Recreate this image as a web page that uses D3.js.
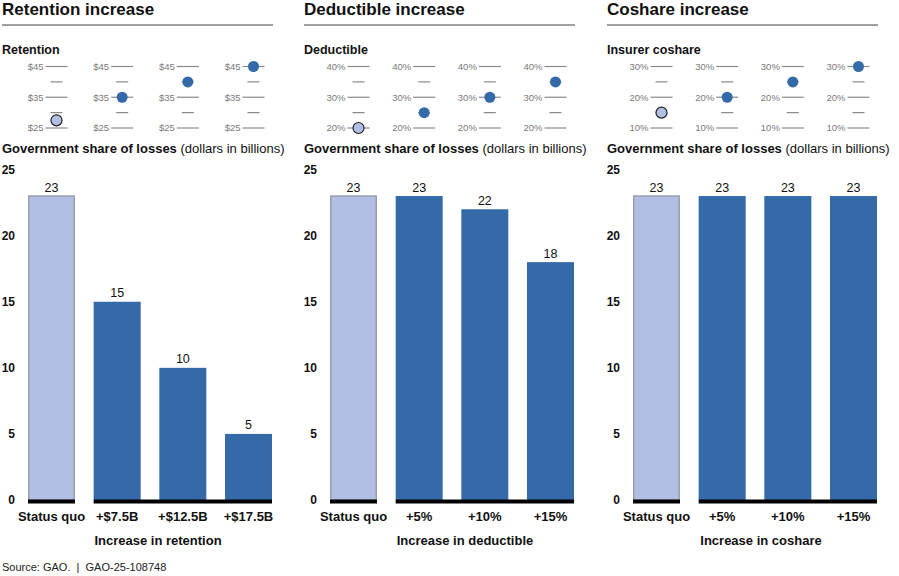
<!DOCTYPE html>
<html>
<head>
<meta charset="utf-8">
<script src="https://cdn.jsdelivr.net/npm/d3@7"></script>
<style>
  body { margin: 0; background: #fff; }
  text { font-family: "Liberation Sans", Arial, sans-serif; }
</style>
</head>
<body>
<script>
/*--- data ---*/
let panelTitles = ["Retention increase", "Deductible increase", "Coshare increase"];
let gaugeTitles = ["Retention", "Deductible", "Insurer coshare"];
let axisTitles = ["Increase in retention", "Increase in deductible", "Increase in coshare"];

let retentionCats = ["Status quo", "+$7.5B", "+$12.5B", "+$17.5B"];
let deductibleCats = ["Status quo", "+5%", "+10%", "+15%"];
let coshareCats = ["Status quo", "+5%", "+10%", "+15%"];

// government share of losses, dollars in billions
let retentionLosses = [23, 15, 10, 5];
let deductibleLosses = [23, 23, 22, 18];
let coshareLosses = [23, 23, 23, 23];

// gauge settings (retention in $B, others in percent)
let retentionLevels = [27.5, 35, 40, 45];
let deductibleLevels = [20, 25, 30, 35];
let coshareLevels = [15, 20, 25, 30];

let retentionTicks = [25, 30, 35, 40, 45];
let deductibleTicks = [20, 25, 30, 35, 40];
let coshareTicks = [10, 15, 20, 25, 30];

let retentionTickLabels = ["$25", "", "$35", "", "$45"];
let deductibleTickLabels = ["20%", "", "30%", "", "40%"];
let coshareTickLabels = ["10%", "", "20%", "", "30%"];

let yTicks = [0, 5, 10, 15, 20, 25];

let panels = [
  {cats: retentionCats, losses: retentionLosses, levels: retentionLevels, ticks: retentionTicks, tickLabels: retentionTickLabels},
  {cats: deductibleCats, losses: deductibleLosses, levels: deductibleLevels, ticks: deductibleTicks, tickLabels: deductibleTickLabels},
  {cats: coshareCats, losses: coshareLosses, levels: coshareLevels, ticks: coshareTicks, tickLabels: coshareTickLabels}
];

/*--- layout ---*/
let width = 899;
let height = 576;
let panelX = [0, 302, 605];
let lightBlue = "#b1bfe4";
let darkBlue = "#356aa8";

let svg = d3.select("body").append("svg")
    .attr("width", width)
    .attr("height", height);

let Y = d3.scaleLinear().domain([0, 25]).range([500, 169.6]);

panels.forEach(function(p, i) {
    let g = svg.append("g").attr("transform", "translate(" + panelX[i] + ",0)");

    // titulo
    g.append("text").attr("x", 2).attr("y", 15)
        .attr("font-size", 17).attr("font-weight", "bold").attr("fill", "#111")
        .text(panelTitles[i]);
    g.append("line").attr("x1", 2).attr("x2", 273).attr("y1", 25).attr("y2", 25)
        .attr("stroke", "#444").attr("stroke-width", 1.2);

    g.append("text").attr("x", 2).attr("y", 54)
        .attr("font-size", 12.5).attr("font-weight", "bold").attr("fill", "#111")
        .text(gaugeTitles[i]);

    // barras
    let X = d3.scaleBand().domain(p.cats).range([28, 272]).paddingInner(0.284).paddingOuter(0);

    // gauges
    let G = d3.scaleLinear().domain(d3.extent(p.ticks)).range([128, 66.5]);
    p.cats.forEach(function(c, j) {
        let cx = X(c) + X.bandwidth() / 2 + 5;
        let gg = g.append("g");
        p.ticks.forEach(function(t, k) {
            let half = k % 2 == 0 ? 11 : 6;
            gg.append("line").attr("x1", cx - half).attr("x2", cx + half)
                .attr("y1", G(t)).attr("y2", G(t))
                .attr("stroke", "#8a8a8a").attr("stroke-width", 1.2);
            if (p.tickLabels[k] != "") {
                gg.append("text").attr("x", cx - 13).attr("y", G(t) + 3.3)
                    .attr("text-anchor", "end").attr("font-size", 9.5).attr("fill", "#7a7a7a")
                    .text(p.tickLabels[k]);
            }
        });
        gg.append("circle").attr("cx", cx).attr("cy", G(p.levels[j])).attr("r", 5.5)
            .attr("fill", j == 0 ? lightBlue : darkBlue)
            .attr("stroke", j == 0 ? "#222" : "none")
            .attr("stroke-width", 1.2);
    });

    let head = g.append("text").attr("x", 2).attr("y", 153)
        .attr("font-size", 13).attr("fill", "#111");
    head.append("tspan").attr("font-weight", "bold").text("Government share of losses");
    head.append("tspan").text(" (dollars in billions)");

    // eje y
    let yAxis = d3.axisLeft(Y).tickValues(yTicks).tickSize(0).tickPadding(0);
    let ya = g.append("g").attr("transform", "translate(15,0)").call(yAxis);
    ya.select(".domain").remove();
    ya.selectAll("text").attr("font-size", 12).attr("font-weight", "bold")
        .attr("fill", "#111").attr("font-family", "Liberation Sans, Arial, sans-serif");

    g.selectAll("rect.bar").data(p.losses).enter().append("rect")
        .attr("class", "bar")
        .attr("x", function(d, j) { return X(p.cats[j]) + (j == 0 ? 0.75 : 0); })
        .attr("width", function(d, j) { return X.bandwidth() - (j == 0 ? 1.5 : 0); })
        .attr("y", function(d) { return Y(d); })
        .attr("height", function(d) { return Y(0) - Y(d); })
        .attr("fill", function(d, j) { return j == 0 ? lightBlue : darkBlue; })
        .attr("stroke", function(d, j) { return j == 0 ? "#9a9fab" : "none"; })
        .attr("stroke-width", 1.5);

    g.selectAll("text.val").data(p.losses).enter().append("text")
        .attr("class", "val")
        .attr("x", function(d, j) { return X(p.cats[j]) + X.bandwidth() / 2; })
        .attr("y", function(d) { return Y(d) - 4.5; })
        .attr("text-anchor", "middle").attr("font-size", 12.5).attr("fill", "#111")
        .text(function(d) { return d; });

    // linea base
    g.append("line").attr("x1", X(p.cats[0])).attr("x2", X(p.cats[0]) + X.bandwidth())
        .attr("y1", Y(0) + 1.5).attr("y2", Y(0) + 1.5).attr("stroke", "#000").attr("stroke-width", 4);
    g.append("line").attr("x1", X(p.cats[1])).attr("x2", X(p.cats[3]) + X.bandwidth())
        .attr("y1", Y(0) + 1.5).attr("y2", Y(0) + 1.5).attr("stroke", "#000").attr("stroke-width", 4);

    // eje x
    let xAxis = d3.axisBottom(X).tickSize(0).tickPadding(0);
    let xa = g.append("g").attr("transform", "translate(0,512)").call(xAxis);
    xa.select(".domain").remove();
    xa.selectAll("text").attr("font-size", 13).attr("font-weight", "bold")
        .attr("fill", "#111").attr("font-family", "Liberation Sans, Arial, sans-serif");

    g.append("text").attr("x", [158, 163, 156][i]).attr("y", 545)
        .attr("text-anchor", "middle").attr("font-size", 13).attr("font-weight", "bold").attr("fill", "#111")
        .text(axisTitles[i]);
});

svg.append("text").attr("x", 2).attr("y", 571)
    .attr("font-size", 11).attr("fill", "#222")
    .style("white-space", "pre")
    .text("Source: GAO.  |  GAO-25-108748");
</script>
</body>
</html>
